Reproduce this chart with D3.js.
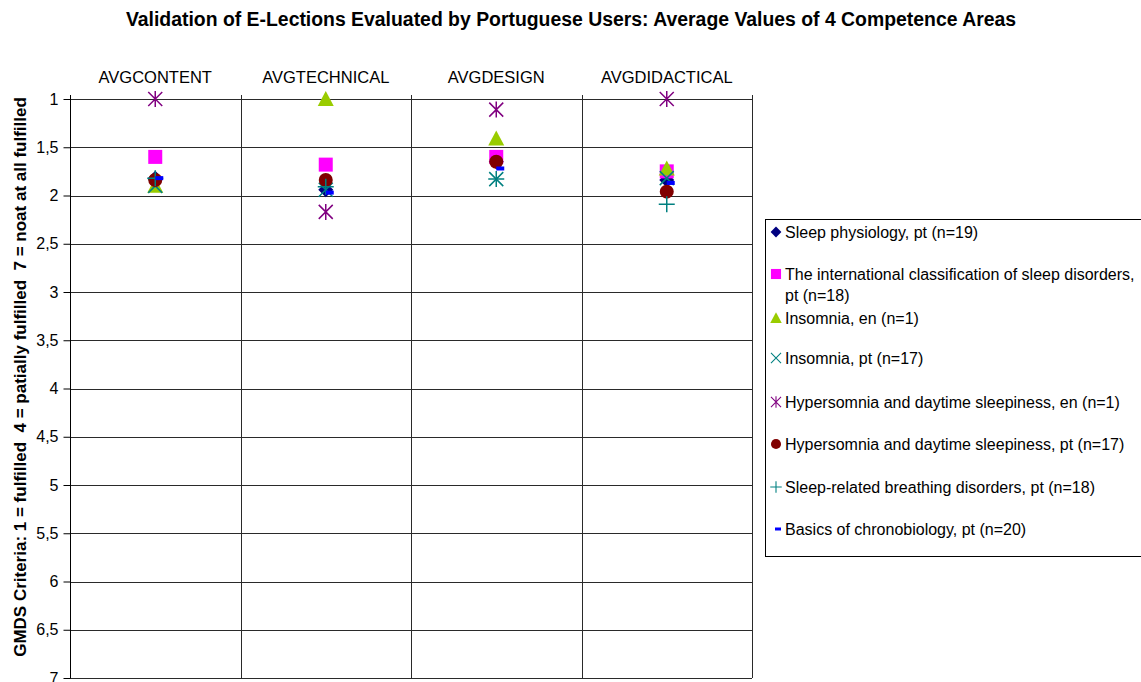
<!DOCTYPE html>
<html><head><meta charset="utf-8">
<script src="https://cdn.jsdelivr.net/npm/d3@7"></script>
<style>body{margin:0;background:#fff;} svg{display:block;font-family:"Liberation Sans",Arial,sans-serif;}</style>
</head><body>
<script>
const categories = ["AVGCONTENT","AVGTECHNICAL","AVGDESIGN","AVGDIDACTICAL"];
const seriesNames = [
  "Sleep physiology, pt (n=19)",
  "The international classification of sleep disorders, pt (n=18)",
  "Insomnia, en (n=1)",
  "Insomnia, pt (n=17)",
  "Hypersomnia and daytime sleepiness, en (n=1)",
  "Hypersomnia and daytime sleepiness, pt (n=17)",
  "Sleep-related breathing disorders, pt (n=18)",
  "Basics of chronobiology, pt (n=20)"
];
const sleepPhysiology = [1.82, 1.94, 1.65, 1.84];
const intlClassification = [1.60, 1.68, 1.60, 1.75];
const insomniaEn = [1.90, 1.00, 1.41, 1.72];
const insomniaPt = [1.90, 1.94, 1.83, 1.82];
const hypersomniaEn = [1.00, 2.17, 1.11, 1.00];
const hypersomniaPt = [1.84, 1.84, 1.65, 1.96];
const breathingPt = [1.82, 1.91, 1.83, 2.09];
const chronobiologyPt = [1.82, 1.97, 1.72, 1.87];
const yTicks = [1,1.5,2,2.5,3,3.5,4,4.5,5,5.5,6,6.5,7];

const seriesValues = [sleepPhysiology, intlClassification, insomniaEn, insomniaPt, hypersomniaEn, hypersomniaPt, breathingPt, chronobiologyPt];
const markerTypes = ["diamond","square","triangle","x","asterisk","circle","plus","dash"];
const colors = ["#000080","#FF00FF","#99CC00","#008080","#800080","#800000","#008080","#0000FF"];

const W = 1141, H = 682;
const svg = d3.select("body").append("svg").attr("width", W).attr("height", H);

const x = d3.scaleBand().domain(categories).range([70, 752]).padding(0);
const y = d3.scaleLinear().domain([1, 7]).range([99, 678]);

// title
svg.append("text").attr("x", 571).attr("y", 26).attr("text-anchor","middle")
  .style("font-weight","bold").style("font-size","19.4px")
  .text("Validation of E-Lections Evaluated by Portuguese Users: Average Values of 4 Competence Areas");

// gridlines
svg.append("g").selectAll("line").data(yTicks).join("line")
  .attr("x1", 70).attr("x2", 752).attr("y1", d => Math.round(y(d)) + 0.5).attr("y2", d => Math.round(y(d)) + 0.5)
  .attr("stroke", "#2a2a2a").attr("stroke-width", 1);

// vertical category separators
const bounds = categories.map(c => x(c) + x.bandwidth());
svg.append("g").selectAll("line").data(bounds).join("line")
  .attr("x1", d => Math.round(d) + 0.5).attr("x2", d => Math.round(d) + 0.5)
  .attr("y1", 95).attr("y2", 678).attr("stroke", "#2a2a2a");

// y axis
const yAxis = svg.append("g").attr("transform","translate(70.5,0)")
  .call(d3.axisLeft(y).tickValues(yTicks).tickSize(7).tickSizeOuter(0).tickFormat(d => String(d).replace(".", ",")));
yAxis.select(".domain").attr("stroke","#000").attr("d","M0,95V678");
yAxis.selectAll(".tick line").attr("stroke","#000");
yAxis.selectAll(".tick text").style("font-size","16px").style("font-family","Liberation Sans, Arial, sans-serif").attr("fill","#000").attr("x",-12);

// top category axis
const xAxis = svg.append("g").attr("transform","translate(0,99)")
  .call(d3.axisTop(x).tickSize(0).tickPadding(16));
xAxis.select(".domain").remove();
xAxis.selectAll(".tick text").style("font-size","16.5px").style("font-family","Liberation Sans, Arial, sans-serif").attr("fill","#000");

// y axis title
svg.append("text").attr("transform","translate(26,377) rotate(-90)").attr("text-anchor","middle")
  .style("font-weight","bold").style("font-size","17px").style("white-space","pre")
  .text("GMDS Criteria: 1 = fulfilled  4 = patially fulfilled  7 = noat at all fulfilled");

function drawMarker(g, type, color) {
  const s = 7;
  if (type === "diamond") g.append("path").attr("d", "M0,-7.5L7.5,0L0,7.5L-7.5,0Z").attr("fill", color);
  else if (type === "square") g.append("rect").attr("x",-7).attr("y",-7).attr("width",14).attr("height",14).attr("fill", color);
  else if (type === "triangle") g.append("path").attr("d","M0,-8L8,7L-8,7Z").attr("fill", color);
  else if (type === "circle") g.append("circle").attr("r", 7).attr("fill", color);
  else if (type === "x") g.append("path").attr("d", `M${-s},${-s}L${s},${s}M${-s},${s}L${s},${-s}`).attr("stroke", color).attr("stroke-width",1.5);
  else if (type === "plus") g.append("path").attr("d", `M${-s-1},0L${s+1},0M0,${-s-1}L0,${s+1}`).attr("stroke", color).attr("stroke-width",1.5);
  else if (type === "asterisk") g.append("path").attr("d", `M${-s},${-s}L${s},${s}M${-s},${s}L${s},${-s}M0,-8L0,8`).attr("stroke", color).attr("stroke-width",1.5);
  else if (type === "dash") g.append("rect").attr("x",0).attr("y",-2).attr("width",8).attr("height",4).attr("fill", color);
}

// markers
seriesValues.forEach((vals, si) => {
  const g = svg.append("g");
  vals.forEach((v, ci) => {
    const m = g.append("g").attr("transform", `translate(${x(categories[ci]) + x.bandwidth()/2},${y(v)})`);
    drawMarker(m, markerTypes[si], colors[si]);
  });
});

// legend
const lg = svg.append("g");
lg.append("rect").attr("x", 765.5).attr("y", 219.5).attr("width", 380).attr("height", 337).attr("fill","#fff").attr("stroke","#000");
const legendY = [232, 274, 318, 358, 402, 444, 487, 529];
seriesNames.forEach((name, i) => {
  const yy = legendY[i];
  const m = lg.append("g").attr("transform", `translate(776,${yy})`);
  if (markerTypes[i] === "dash") {
    m.append("rect").attr("x",-1).attr("y",-1.5).attr("width",6).attr("height",3).attr("fill",colors[i]);
  } else {
    const mm = m.append("g").attr("transform","scale(0.72)");
    drawMarker(mm, markerTypes[i], colors[i]);
  }
  const t = lg.append("text").attr("x", 785).attr("y", yy + 6).style("font-size","16px").attr("fill","#000");
  if (i === 1) {
    t.append("tspan").attr("x",785).text("The international classification of sleep disorders,");
    t.append("tspan").attr("x",785).attr("dy",21).text("pt (n=18)");
  } else t.text(name);
});
</script>
</body></html>
